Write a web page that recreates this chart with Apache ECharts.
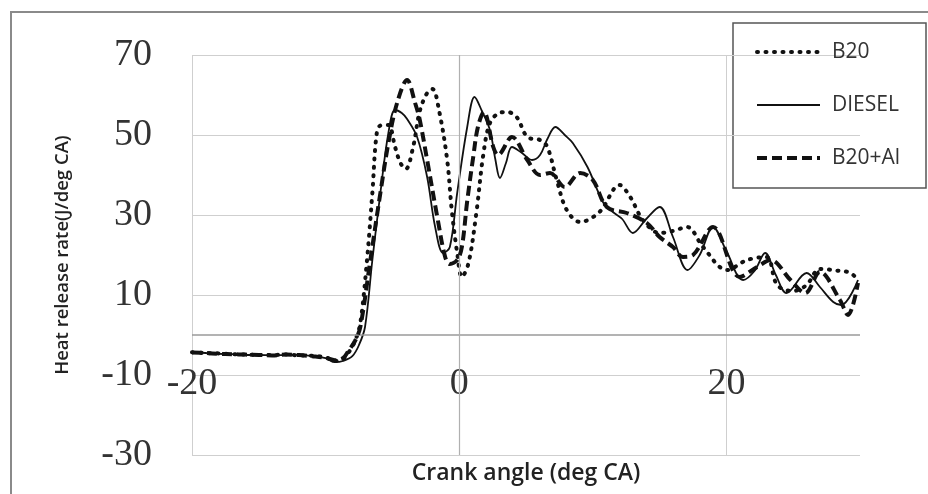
<!DOCTYPE html>
<html><head><meta charset="utf-8">
<script src="https://cdn.jsdelivr.net/npm/echarts@6/dist/echarts.min.js"></script>
<style>html,body{margin:0;padding:0;background:#fff}#c{width:928px;height:494px}</style>
</head><body><div id="c"></div>
<script>
// ---- data ----
const seriesNames = ['B20', 'DIESEL', 'B20+Al'];

const b20X = [-20,-19,-18,-17,-16,-15,-14,-13,-12,-11,-10,-9.3,-8.7,-8.3,-7.8,-7.4,-6.9,-6.5,-6.15,-5.8,-5.3,-4.8,-4.4,-4.0,-3.45,-2.95,-2.4,-2.0,-1.5,-0.9,-0.55,-0.15,0.2,0.7,1.3,1.8,2.3,3.0,3.6,4.3,5.1,6.05,6.6,7.3,8.05,9.05,10.5,12,12.8,13.75,15,16,17.05,18.25,20.05,21.55,23.0,23.8,25,26,27,28.5,29.3,29.9];
const b20Y = [-4.3,-4.5,-4.6,-4.8,-4.9,-5.0,-5.0,-4.9,-5.1,-5.2,-5.6,-6.5,-6.0,-4.5,-1.5,3,18.75,35.5,51,52.5,52.5,47,43,41.5,47,56,60.5,61.5,56,43.75,31,20.5,14.5,18,31,45,53,55.5,55.75,54.5,49.5,48.75,47,38.75,31.25,28.25,30.75,37.5,34.5,28.75,25.5,26,27,22,16.25,18.75,19.5,12.5,11,12.5,16.5,16,15.5,13.5];

const dieselX = [-20,-19,-18,-17,-16,-15,-14,-13,-12,-11,-10,-9.3,-8.7,-8.0,-7.5,-7.05,-6.5,-5.9,-5.3,-4.8,-4.3,-3.9,-3.15,-2.4,-1.8,-1.2,-0.7,-0.15,0.6,1.15,1.7,2.3,2.7,3.05,3.5,3.95,4.7,5.45,6.05,6.6,7.2,7.9,8.5,9.6,10.8,11.5,12.2,13,14,15,16,17.1,18,19,20,21.25,22.1,22.9,23.7,24.5,26,27,28,28.6,29.85];
const dieselY = [-4.3,-4.5,-4.7,-4.8,-5.0,-5.0,-5.1,-5.0,-4.9,-5.3,-5.8,-6.8,-6.5,-5.3,-2.5,2,18.75,35.5,50.5,56.25,55.5,54,49.5,39.5,27,20.5,22,35.5,52,59.5,56,51.25,44,39.25,43,47,45.5,43.75,45,49,52,50,48,42,33,30.75,29,25.5,29,32,24.5,16.25,20,27,21,13.75,16,20.5,15,10.5,15.5,12,8.25,7.5,13.75];

const b20AlX = [-20,-19,-18,-17,-16,-15,-14,-13,-12,-11,-10,-9.3,-8.7,-8.3,-7.8,-7.4,-6.65,-5.9,-5.3,-4.65,-3.9,-3.3,-2.95,-2.4,-1.6,-1.05,-0.7,-0.15,0.2,0.6,1.05,1.4,1.85,2.55,2.9,3.95,5.1,6.05,6.8,7.9,9.05,10,11.05,12.55,14.05,15,16,16.75,17.5,19,21,22.3,23.3,24.8,25.9,27,28.5,29.1,29.85];
const b20AlY = [-4.4,-4.5,-4.7,-4.8,-4.9,-5.0,-5.1,-4.9,-5.0,-5.3,-5.7,-6.3,-5.8,-4,-1.5,2,18.75,35.5,48,58,63.75,58,53.75,43.75,28.75,19.5,17.75,18.75,22,33.5,44.5,52,55.75,47,45,49.5,43.75,40,40.5,37,40.5,38.75,32,30.5,28,24.5,22,19.5,20,27,14.5,17,18.75,13.75,10.5,15.75,8.75,5,13];

const yTicks = [-30, -10, 10, 30, 50, 70];
const xTicks = [-20, 0, 20];
const xTitle = 'Crank angle (deg CA)';
const yTitle = 'Heat release rate(J/deg CA)';

function pairs(xs, ys) { return xs.map((x, i) => [x, ys[i]]); }

const chart = echarts.init(document.getElementById('c'), null, {renderer: 'canvas'});
const ink = '#111';
const styles = [
  {color: ink, width: 4, type: [1, 7.5], cap: 'round'},
  {color: ink, width: 1.8, type: 'solid'},
  {color: ink, width: 4, type: [10, 5]}
];
const option = {
  animation: false,
  backgroundColor: '#fff',
  grid: {left: 192, right: 68, top: 55, bottom: 39},
  xAxis: {
    type: 'value', min: xTicks[0], max: 30, interval: xTicks[1] - xTicks[0],
    position: 'bottom', offset: -80,
    axisLine: {show: false, onZero: false}, axisTick: {show: false},
    axisLabel: {fontFamily: 'Liberation Serif', fontSize: 38, color: '#333', margin: 9,
      verticalAlign: 'middle', showMaxLabel: false},
    splitLine: {show: true, showMaxLine: false, lineStyle: {color: '#cfcfcf', width: 1}},
    name: xTitle, nameLocation: 'middle', nameGap: 87,
    nameTextStyle: {fontFamily: 'Open Sans', fontWeight: 600, fontSize: 23, color: '#222'}
  },
  yAxis: {
    type: 'value', min: yTicks[0], max: yTicks[yTicks.length - 1], interval: yTicks[1] - yTicks[0],
    axisLine: {show: false}, axisTick: {show: false},
    axisLabel: {fontFamily: 'Liberation Serif', fontSize: 38, color: '#333', margin: 40},
    splitLine: {show: true, lineStyle: {color: '#cfcfcf', width: 1}},
    name: yTitle, nameLocation: 'middle', nameGap: 120, nameRotate: 90,
    nameTextStyle: {fontFamily: 'Open Sans', fontWeight: 600, fontSize: 18.5, color: '#222'}
  },
  legend: {
    orient: 'vertical', left: 755, top: 41, padding: 0,
    itemWidth: 63, itemHeight: 14, itemGap: 31,
    itemStyle: {opacity: 0},
    textStyle: {fontFamily: 'Open Sans', fontSize: 21, color: '#333', lineHeight: 22, padding: [0, 0, 0, 7]},
    data: seriesNames.map((n, i) => ({name: n, lineStyle: Object.assign({}, styles[i])}))
  },
  graphic: [
    {type: 'rect', shape: {x: 11, y: 12, width: 1000, height: 600},
     style: {fill: 'none', stroke: '#8a8a8a', lineWidth: 2}, silent: true},
    {type: 'rect', shape: {x: 733, y: 23, width: 193, height: 165},
     style: {fill: 'none', stroke: '#555', lineWidth: 1.5}, silent: true}
  ],
  series: [
    {name: seriesNames[0], type: 'line', data: pairs(b20X, b20Y), smooth: 0.35, symbol: 'none',
     itemStyle: {color: ink}, lineStyle: styles[0], z: 3},
    {name: seriesNames[1], type: 'line', data: pairs(dieselX, dieselY), smooth: 0.35, symbol: 'none',
     itemStyle: {color: ink}, lineStyle: styles[1], z: 4,
     markLine: {silent: true, symbol: 'none', label: {show: false},
       data: [{yAxis: 0, lineStyle: {color: '#9a9a9a', width: 1.5, type: 'solid'}},
              {xAxis: 0, lineStyle: {color: '#b0b0b0', width: 1.2, type: 'solid'}}]}},
    {name: seriesNames[2], type: 'line', data: pairs(b20AlX, b20AlY), smooth: 0.35, symbol: 'none',
     itemStyle: {color: ink}, lineStyle: styles[2], z: 5}
  ]
};
chart.setOption(option);
</script>
</body></html>
